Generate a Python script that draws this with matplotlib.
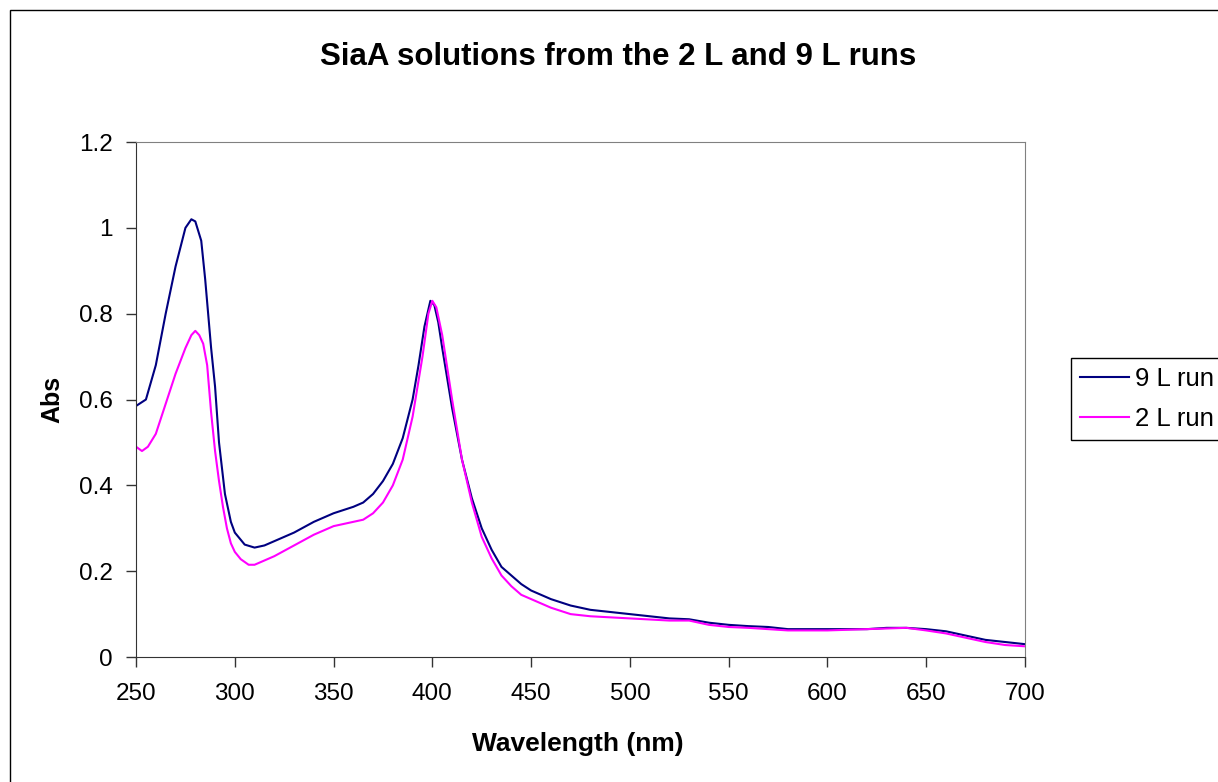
import matplotlib

matplotlib.use("Agg")

import matplotlib.pyplot as plt
from matplotlib.patches import Rectangle
from matplotlib.ticker import FuncFormatter

# wavelength grid (nm) and absorbance
wl_9l = [250, 255, 260, 265, 270, 275, 278, 280, 283, 285, 288, 290, 292, 295, 298,
         300, 305, 310, 315, 320, 330, 340, 350, 360, 365, 370, 375, 380, 385, 390,
         393, 396, 399, 401, 403, 405, 410, 415, 420, 425, 430, 435, 440, 445, 450,
         460, 470, 480, 490, 500, 510, 520, 530, 540, 550, 560, 570, 580, 600, 620,
         630, 640, 650, 660, 670, 680, 690, 700]
abs_9l = [0.585, 0.60, 0.68, 0.80, 0.91, 1.00, 1.02, 1.015, 0.97, 0.88, 0.72, 0.63, 0.50, 0.38, 0.315,
          0.29, 0.262, 0.255, 0.26, 0.27, 0.29, 0.315, 0.335, 0.35, 0.36, 0.38, 0.41, 0.45, 0.51, 0.60,
          0.68, 0.77, 0.83, 0.82, 0.78, 0.72, 0.58, 0.46, 0.37, 0.30, 0.25, 0.21, 0.19, 0.17, 0.155,
          0.135, 0.12, 0.11, 0.105, 0.10, 0.095, 0.09, 0.088, 0.08, 0.075, 0.072, 0.07, 0.065, 0.065, 0.065,
          0.068, 0.068, 0.065, 0.06, 0.05, 0.04, 0.035, 0.03]

wl_2l = [250, 253, 256, 260, 265, 270, 275, 278, 280, 282, 284, 286, 288, 290, 292,
         294, 296, 298, 300, 303, 307, 310, 315, 320, 330, 340, 350, 360, 365, 370,
         375, 380, 385, 390, 395, 398, 400, 402, 405, 410, 415, 420, 425, 430, 435,
         440, 445, 450, 460, 470, 480, 500, 520, 530, 540, 550, 560, 580, 600, 620,
         640, 650, 660, 670, 680, 690, 700]
abs_2l = [0.49, 0.48, 0.49, 0.52, 0.59, 0.66, 0.72, 0.75, 0.76, 0.75, 0.73, 0.68, 0.57, 0.48, 0.41,
          0.35, 0.30, 0.265, 0.245, 0.228, 0.215, 0.215, 0.225, 0.235, 0.26, 0.285, 0.305, 0.315, 0.32, 0.335,
          0.36, 0.40, 0.46, 0.56, 0.70, 0.80, 0.83, 0.815, 0.75, 0.60, 0.46, 0.36, 0.28, 0.23, 0.19,
          0.165, 0.145, 0.135, 0.115, 0.10, 0.095, 0.09, 0.085, 0.085, 0.075, 0.07, 0.068, 0.062, 0.062, 0.065,
          0.068, 0.062, 0.055, 0.045, 0.035, 0.028, 0.025]

x_ticks = [250, 300, 350, 400, 450, 500, 550, 600, 650, 700]
y_ticks = [0, 0.2, 0.4, 0.6, 0.8, 1.0, 1.2]

plt.rcParams["font.family"] = ["Liberation Sans", "DejaVu Sans"]

fig = plt.figure(figsize=(12.18, 7.82), dpi=100)
ax = fig.add_axes([0.1117, 0.1598, 0.7298, 0.6586])

ax.plot(wl_9l, abs_9l, color="#000080", lw=1.5, label="9 L run")
ax.plot(wl_2l, abs_2l, color="#FF00FF", lw=1.5, label="2 L run")

ax.set_xlim(250, 700)
ax.set_ylim(0, 1.2)
ax.set_xticks(x_ticks)
ax.set_yticks(y_ticks)
ax.yaxis.set_major_formatter(FuncFormatter(lambda v, p: f"{v:g}"))
ax.tick_params(direction="out", length=7, width=1, labelsize=17.5, color="#333333")
ax.tick_params(axis="x", pad=12)
ax.tick_params(axis="y", pad=10)

for side in ("left", "bottom"):
    ax.spines[side].set_color("#333333")
for side in ("top", "right"):
    ax.spines[side].set_color("#808080")

fig.text(578 / 1218, 1 - 744 / 782, "Wavelength (nm)", ha="center", va="center",
         fontsize=19, fontweight="bold")
fig.text(52 / 1218, 1 - 399 / 782, "Abs", ha="center", va="center", rotation=90,
         fontsize=18, fontweight="bold")
fig.text(618 / 1218, 1 - 57 / 782, "SiaA solutions from the 2 L and 9 L runs",
         ha="center", va="center", fontsize=22.5, fontweight="bold")

leg = fig.legend(loc="center left", bbox_to_anchor=(1071 / 1218, 1 - 399 / 782), fontsize=18.5,
                 frameon=True, fancybox=False, framealpha=1, edgecolor="black",
                 handlelength=1.9, handletextpad=0.25, borderpad=0.35, labelspacing=0.6,
                 borderaxespad=0)
leg.get_frame().set_linewidth(1)
for line in leg.get_lines():
    line.set_linewidth(1.5)

# outer chart border
fig.patches.append(Rectangle((10 / 1218, -0.1), 1.2, (782 - 10) / 782 + 0.1,
                             transform=fig.transFigure, fill=False,
                             edgecolor="black", lw=1))

fig.savefig("out.png", dpi=100)
